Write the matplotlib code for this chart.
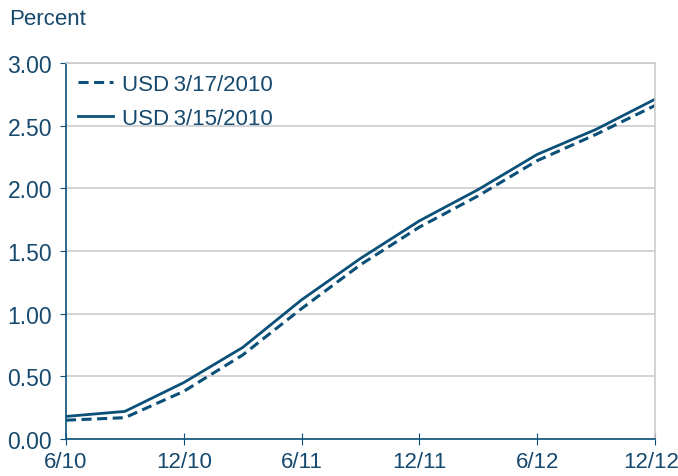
import matplotlib
matplotlib.use("Agg")
import matplotlib.pyplot as plt
from matplotlib.transforms import ScaledTranslation

plt.rcParams['font.family'] = ['Liberation Sans', 'DejaVu Sans']

# months since 6/10, quarterly
months = [0, 3, 6, 9, 12, 15, 18, 21, 24, 27, 30]
usd_0317 = [0.15, 0.17, 0.38, 0.67, 1.04, 1.39, 1.69, 1.94, 2.22, 2.43, 2.66]
usd_0315 = [0.18, 0.22, 0.45, 0.73, 1.11, 1.44, 1.74, 1.99, 2.27, 2.47, 2.71]
tick_pos = [0, 6, 12, 18, 24, 30]
tick_labels = ["6/10", "12/10", "6/11", "12/11", "6/12", "12/12"]
y_ticks = [0, 0.5, 1.0, 1.5, 2.0, 2.5, 3.0]

blue = '#0b5078'
text_c = '#16496e'

fig = plt.figure(figsize=(6.78, 4.77), dpi=100)
ax = fig.add_axes([0.0973, 0.0776, 0.8687, 0.7884])

ax.plot(months, usd_0317, color=blue, lw=2.2, ls=(0, (3.3, 1.8)), label="USD\u20093/17/2010")
ax.plot(months, usd_0315, color=blue, lw=2.0, label="USD\u20093/15/2010")

ax.set_xlim(0, 30)
ax.set_ylim(0, 3.0)
ax.set_xticks(tick_pos)
ax.set_xticklabels(tick_labels)
ax.set_yticks(y_ticks)
ax.set_yticklabels([f"{v:.2f}" for v in y_ticks])
ax.yaxis.grid(True, color='#cccccc', lw=1.2)
ax.set_axisbelow(True)

for s in ['top', 'right']:
    ax.spines[s].set_color('#cccccc')
    ax.spines[s].set_linewidth(1.2)
for s in ['left', 'bottom']:
    ax.spines[s].set_color(blue)
    ax.spines[s].set_linewidth(1.2)

ax.tick_params(axis='y', direction='out', length=4, color=blue, labelsize=16.5,
               labelcolor=text_c, pad=6)
ax.tick_params(axis='x', direction='inout', length=8, color=blue, labelsize=16,
               labelcolor=text_c, pad=5)

# nudge the last x label so it stays inside the figure
last = ax.get_xticklabels()[-1]
last.set_transform(last.get_transform() + ScaledTranslation(-4 / 100, 0, fig.dpi_scale_trans))

fig.text(0.014, 0.96, "Percent", fontsize=16, color=text_c, va='center')

leg = ax.legend(loc='upper left', frameon=False, fontsize=16, handlelength=1.6,
                borderaxespad=0.0, labelspacing=0.6, handletextpad=0.4,
                bbox_to_anchor=(0.005, 0.995))
for t in leg.get_texts():
    t.set_color(text_c)

fig.savefig("out.png", dpi=100)
